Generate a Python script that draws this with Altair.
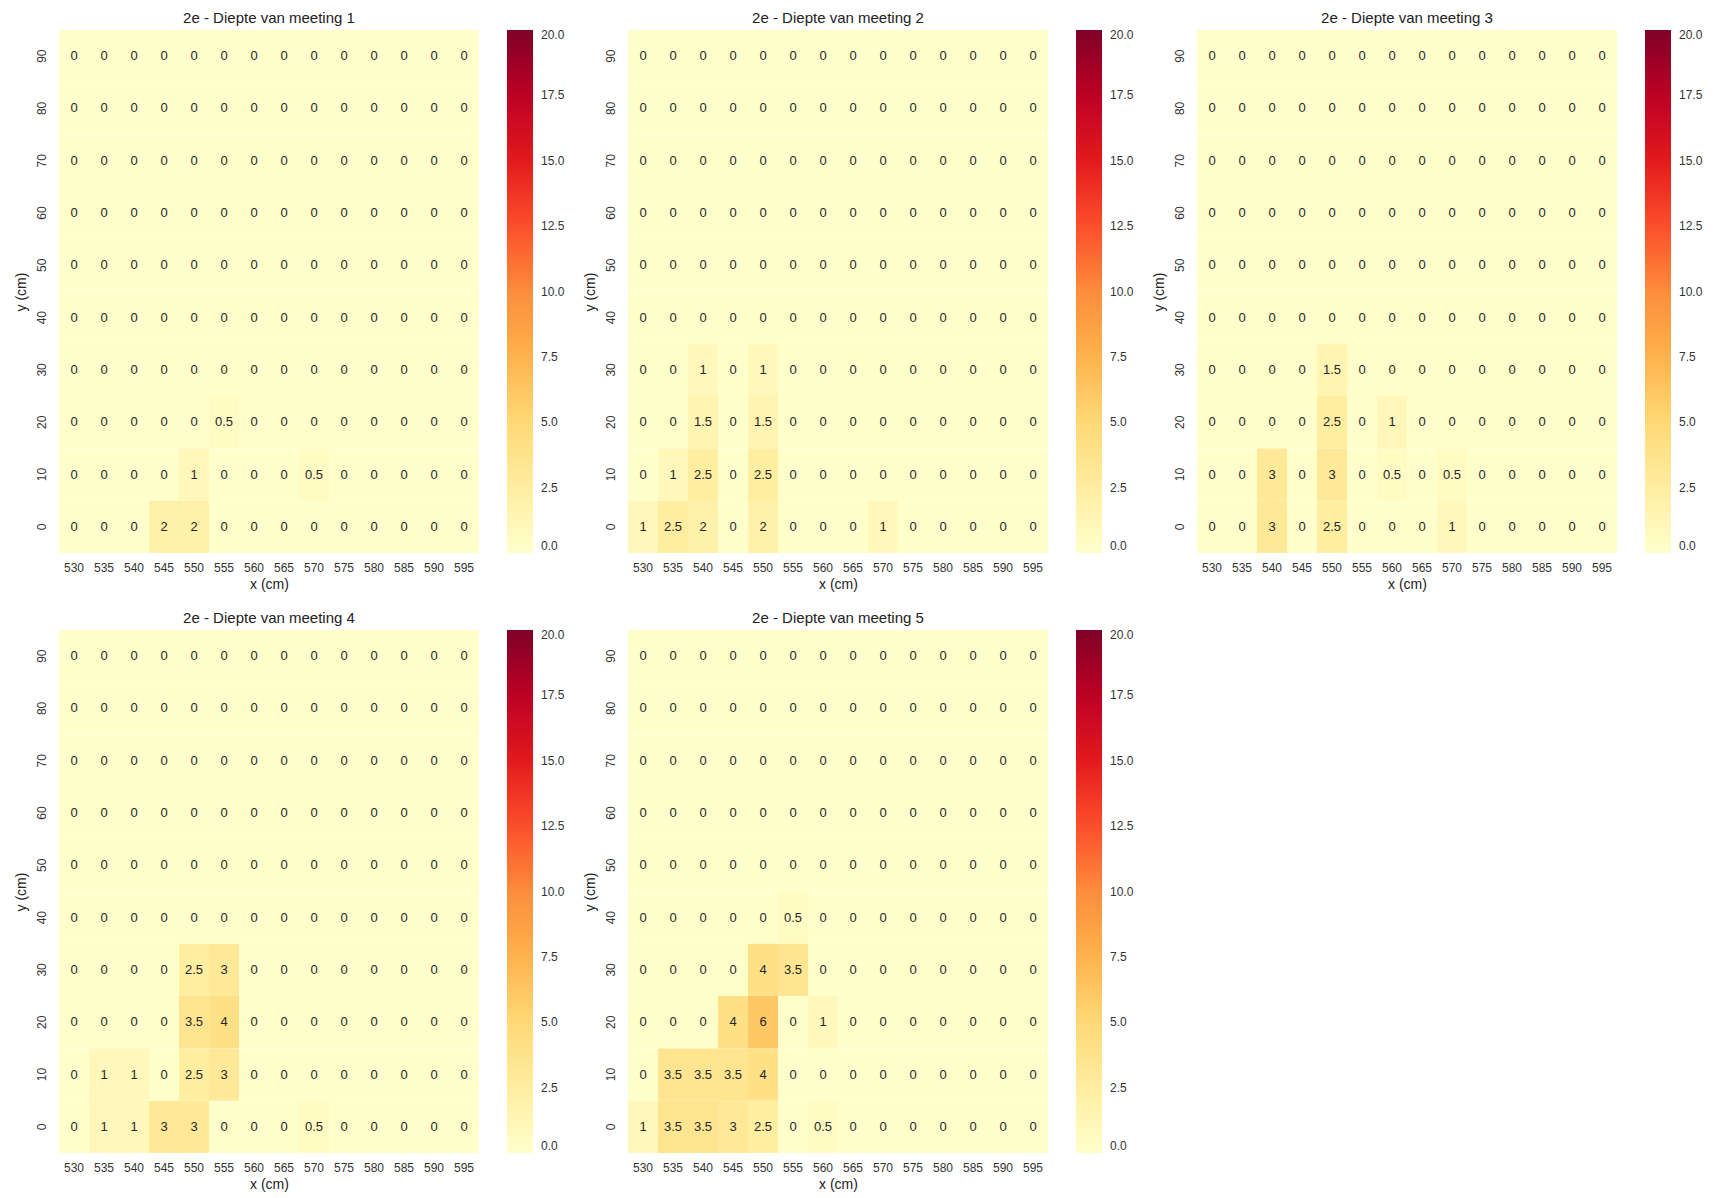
import altair as alt
import pandas as pd

x_vals = [530, 535, 540, 545, 550, 555, 560, 565, 570, 575, 580, 585, 590, 595]
y_vals = [90, 80, 70, 60, 50, 40, 30, 20, 10, 0]  # rows top to bottom

meeting_1 = [
    [0, 0, 0, 0, 0, 0, 0, 0, 0, 0, 0, 0, 0, 0],
    [0, 0, 0, 0, 0, 0, 0, 0, 0, 0, 0, 0, 0, 0],
    [0, 0, 0, 0, 0, 0, 0, 0, 0, 0, 0, 0, 0, 0],
    [0, 0, 0, 0, 0, 0, 0, 0, 0, 0, 0, 0, 0, 0],
    [0, 0, 0, 0, 0, 0, 0, 0, 0, 0, 0, 0, 0, 0],
    [0, 0, 0, 0, 0, 0, 0, 0, 0, 0, 0, 0, 0, 0],
    [0, 0, 0, 0, 0, 0, 0, 0, 0, 0, 0, 0, 0, 0],
    [0, 0, 0, 0, 0, 0.5, 0, 0, 0, 0, 0, 0, 0, 0],
    [0, 0, 0, 0, 1, 0, 0, 0, 0.5, 0, 0, 0, 0, 0],
    [0, 0, 0, 2, 2, 0, 0, 0, 0, 0, 0, 0, 0, 0],
]
meeting_2 = [
    [0, 0, 0, 0, 0, 0, 0, 0, 0, 0, 0, 0, 0, 0],
    [0, 0, 0, 0, 0, 0, 0, 0, 0, 0, 0, 0, 0, 0],
    [0, 0, 0, 0, 0, 0, 0, 0, 0, 0, 0, 0, 0, 0],
    [0, 0, 0, 0, 0, 0, 0, 0, 0, 0, 0, 0, 0, 0],
    [0, 0, 0, 0, 0, 0, 0, 0, 0, 0, 0, 0, 0, 0],
    [0, 0, 0, 0, 0, 0, 0, 0, 0, 0, 0, 0, 0, 0],
    [0, 0, 1, 0, 1, 0, 0, 0, 0, 0, 0, 0, 0, 0],
    [0, 0, 1.5, 0, 1.5, 0, 0, 0, 0, 0, 0, 0, 0, 0],
    [0, 1, 2.5, 0, 2.5, 0, 0, 0, 0, 0, 0, 0, 0, 0],
    [1, 2.5, 2, 0, 2, 0, 0, 0, 1, 0, 0, 0, 0, 0],
]
meeting_3 = [
    [0, 0, 0, 0, 0, 0, 0, 0, 0, 0, 0, 0, 0, 0],
    [0, 0, 0, 0, 0, 0, 0, 0, 0, 0, 0, 0, 0, 0],
    [0, 0, 0, 0, 0, 0, 0, 0, 0, 0, 0, 0, 0, 0],
    [0, 0, 0, 0, 0, 0, 0, 0, 0, 0, 0, 0, 0, 0],
    [0, 0, 0, 0, 0, 0, 0, 0, 0, 0, 0, 0, 0, 0],
    [0, 0, 0, 0, 0, 0, 0, 0, 0, 0, 0, 0, 0, 0],
    [0, 0, 0, 0, 1.5, 0, 0, 0, 0, 0, 0, 0, 0, 0],
    [0, 0, 0, 0, 2.5, 0, 1, 0, 0, 0, 0, 0, 0, 0],
    [0, 0, 3, 0, 3, 0, 0.5, 0, 0.5, 0, 0, 0, 0, 0],
    [0, 0, 3, 0, 2.5, 0, 0, 0, 1, 0, 0, 0, 0, 0],
]
meeting_4 = [
    [0, 0, 0, 0, 0, 0, 0, 0, 0, 0, 0, 0, 0, 0],
    [0, 0, 0, 0, 0, 0, 0, 0, 0, 0, 0, 0, 0, 0],
    [0, 0, 0, 0, 0, 0, 0, 0, 0, 0, 0, 0, 0, 0],
    [0, 0, 0, 0, 0, 0, 0, 0, 0, 0, 0, 0, 0, 0],
    [0, 0, 0, 0, 0, 0, 0, 0, 0, 0, 0, 0, 0, 0],
    [0, 0, 0, 0, 0, 0, 0, 0, 0, 0, 0, 0, 0, 0],
    [0, 0, 0, 0, 2.5, 3, 0, 0, 0, 0, 0, 0, 0, 0],
    [0, 0, 0, 0, 3.5, 4, 0, 0, 0, 0, 0, 0, 0, 0],
    [0, 1, 1, 0, 2.5, 3, 0, 0, 0, 0, 0, 0, 0, 0],
    [0, 1, 1, 3, 3, 0, 0, 0, 0.5, 0, 0, 0, 0, 0],
]
meeting_5 = [
    [0, 0, 0, 0, 0, 0, 0, 0, 0, 0, 0, 0, 0, 0],
    [0, 0, 0, 0, 0, 0, 0, 0, 0, 0, 0, 0, 0, 0],
    [0, 0, 0, 0, 0, 0, 0, 0, 0, 0, 0, 0, 0, 0],
    [0, 0, 0, 0, 0, 0, 0, 0, 0, 0, 0, 0, 0, 0],
    [0, 0, 0, 0, 0, 0, 0, 0, 0, 0, 0, 0, 0, 0],
    [0, 0, 0, 0, 0, 0.5, 0, 0, 0, 0, 0, 0, 0, 0],
    [0, 0, 0, 0, 4, 3.5, 0, 0, 0, 0, 0, 0, 0, 0],
    [0, 0, 0, 4, 6, 0, 1, 0, 0, 0, 0, 0, 0, 0],
    [0, 3.5, 3.5, 3.5, 4, 0, 0, 0, 0, 0, 0, 0, 0, 0],
    [1, 3.5, 3.5, 3, 2.5, 0, 0.5, 0, 0, 0, 0, 0, 0, 0],
]

meetings = [meeting_1, meeting_2, meeting_3, meeting_4, meeting_5]
titles = [f"2e - Diepte van meeting {i}" for i in range(1, 6)]
legend_values = [0.0, 2.5, 5.0, 7.5, 10.0, 12.5, 15.0, 17.5, 20.0]
ylorrd = ["#ffffcc", "#ffeda0", "#fed976", "#feb24c", "#fd8d3c",
          "#fc4e2a", "#e31a1c", "#bd0026", "#800026"]

FONT = "Liberation Sans"
W, H = 420, 523


def panel(grid, title):
    rows = []
    for r, yv in enumerate(y_vals):
        for c, xv in enumerate(x_vals):
            rows.append({"x": xv, "y": yv, "v": grid[r][c]})
    df = pd.DataFrame(rows)
    base = alt.Chart(df)
    scale = alt.Scale(domain=legend_values, range=ylorrd, interpolate="rgb")
    xenc = alt.X("x:O", sort=x_vals, title="x (cm)",
                 axis=alt.Axis(labelAngle=0, ticks=False, domain=False,
                               labelFontSize=12, labelColor="#333333",
                               titleFontSize=14, titleFontWeight="normal",
                               titleColor="#222222", labelPadding=9,
                               titlePadding=4, labelFont=FONT, titleFont=FONT))
    yenc = alt.Y("y:O", sort=y_vals, title="y (cm)",
                 axis=alt.Axis(labelAngle=270, ticks=False, domain=False,
                               labelFontSize=12, labelColor="#333333",
                               labelAlign="center", labelBaseline="bottom",
                               titleFontSize=14, titleFontWeight="normal",
                               titleColor="#222222", labelPadding=11,
                               titlePadding=7, labelFont=FONT, titleFont=FONT))
    rect = base.mark_rect(strokeWidth=0).encode(
        x=xenc, y=yenc,
        color=alt.Color("v:Q", scale=scale,
                        legend=alt.Legend(type="gradient", title=None, values=legend_values,
                                          format=".1f", direction="vertical",
                                          gradientLength=H, gradientThickness=26,
                                          gradientStrokeWidth=0, offset=28,
                                          labelFontSize=12, labelColor="#333333",
                                          labelFont=FONT, labelOffset=8)),
    )
    text = base.mark_text(fontSize=13, font=FONT, color="#262626").encode(
        x=alt.X("x:O", sort=x_vals), y=alt.Y("y:O", sort=y_vals),
        text=alt.Text("v:Q", format="~g"),
    )
    return (rect + text).properties(
        width=W, height=H,
        title=alt.TitleParams(title, fontSize=15, fontWeight="normal", font=FONT,
                              color="#222222", offset=4),
    )


panels = [panel(g, t) for g, t in zip(meetings, titles)]
row1 = alt.hconcat(*panels[:3], spacing=18).resolve_scale(color="independent")
row2 = alt.hconcat(*panels[3:], spacing=18).resolve_scale(color="independent")
chart = alt.vconcat(row1, row2, spacing=20).resolve_scale(
    color="independent"
).configure_view(stroke=None).properties(
    padding={"left": 6, "top": 3, "right": 5, "bottom": 5}, background="white"
)

chart.save("out.html", embed_options={"renderer": "svg", "actions": False})
